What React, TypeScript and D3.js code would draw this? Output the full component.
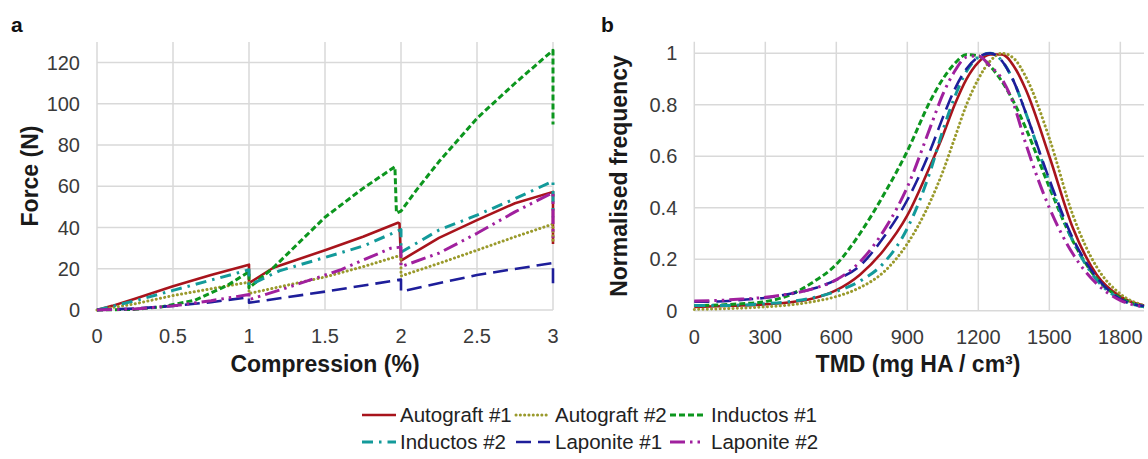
import { useEffect, useRef } from 'react';
import * as d3 from 'd3';

/* ----------------------------------
   DATA - panel a: [compression %, force N]
---------------------------------- */
const autograft1 = [[0, 0], [0.1, 2], [0.25, 5.5], [0.5, 11.5], [0.75, 17], [1, 22], [1, 13], [1.16, 20.5], [1.5, 29], [1.75, 35.5], [1.98, 42.3], [1.99, 42], [2, 24], [2.25, 35], [2.5, 43.6], [2.75, 51.8], [3, 57.3], [3, 32]];
const autograft2 = [[0, 0], [0.25, 3], [0.5, 7], [0.75, 10.3], [1, 13.5], [1, 8], [1.25, 12], [1.5, 16], [1.75, 21], [2, 26.6], [2, 16.5], [2.25, 22.6], [2.5, 29], [2.75, 35.5], [3, 41.7], [3, 32]];
const inductos1 = [[0, 0], [0.25, 0.3], [0.43, 1.6], [0.645, 4.8], [0.86, 12], [1, 18.6], [1, 10.7], [1.16, 20.5], [1.25, 27], [1.5, 45], [1.75, 59], [1.96, 69.5], [1.97, 47], [2, 48], [2.1, 58], [2.25, 72], [2.5, 93], [2.75, 110], [3, 126], [3, 90]];
const inductos2 = [[0, 0], [0.25, 4.5], [0.5, 9.5], [0.75, 14.5], [1, 19.5], [1, 12], [1.2, 19], [1.5, 25.5], [1.75, 31], [2, 39], [2, 28], [2.25, 38.8], [2.5, 46], [2.75, 54], [3, 62.5], [3, 45]];
const laponite1 = [[0, 0], [0.25, 0.7], [0.5, 2], [0.75, 3.8], [1, 6.2], [1, 3.5], [1.5, 8.9], [2, 14.8], [2, 9], [2.5, 17], [3, 22.8], [3, 13]];
const laponite2 = [[0, 0], [0.25, 0.5], [0.5, 2], [0.75, 4.5], [1, 7.5], [1, 5], [1.27, 11.3], [1.6, 19.4], [1.93, 29.9], [2, 30.5], [2, 21], [2.25, 27.6], [2.5, 37.2], [2.75, 47.6], [3, 57], [3, 35]];

/* ----------------------------------
   DATA - panel b: normalised frequency vs TMD
---------------------------------- */
const tmdValues = [0, 100, 200, 300, 400, 500, 600, 700, 800, 900, 1000, 1050, 1100, 1150, 1200, 1250, 1300, 1350, 1400, 1500, 1600, 1700, 1800, 1900];
const autograft1Freq = [0.015, 0.017, 0.02, 0.025, 0.032, 0.047, 0.08, 0.14, 0.235, 0.37, 0.57, 0.68, 0.8, 0.9, 0.965, 0.995, 0.995, 0.95, 0.86, 0.6, 0.32, 0.14, 0.055, 0.02];
const autograft2Freq = [0.005, 0.007, 0.01, 0.015, 0.022, 0.035, 0.055, 0.09, 0.15, 0.26, 0.43, 0.54, 0.67, 0.8, 0.9, 0.97, 1.0, 0.98, 0.91, 0.67, 0.37, 0.17, 0.065, 0.02];
const inductos1Freq = [0.02, 0.022, 0.027, 0.035, 0.06, 0.11, 0.18, 0.3, 0.45, 0.62, 0.82, 0.9, 0.96, 0.995, 0.99, 0.95, 0.89, 0.81, 0.71, 0.48, 0.27, 0.125, 0.05, 0.015];
const inductos2Freq = [0.02, 0.02, 0.022, 0.027, 0.035, 0.05, 0.075, 0.115, 0.185, 0.32, 0.55, 0.7, 0.83, 0.93, 0.985, 1.0, 0.97, 0.89, 0.77, 0.5, 0.27, 0.12, 0.045, 0.015];
const laponite1Freq = [0.035, 0.036, 0.042, 0.05, 0.065, 0.085, 0.12, 0.175, 0.285, 0.43, 0.63, 0.75, 0.86, 0.94, 0.985, 1.0, 0.97, 0.89, 0.77, 0.51, 0.28, 0.13, 0.045, 0.018];
const laponite2Freq = [0.038, 0.04, 0.045, 0.052, 0.065, 0.085, 0.12, 0.19, 0.31, 0.48, 0.72, 0.84, 0.93, 0.985, 0.99, 0.95, 0.9, 0.8, 0.65, 0.4, 0.22, 0.105, 0.04, 0.015];

const seriesNames = ['Autograft #1', 'Autograft #2', 'Inductos #1', 'Inductos #2', 'Laponite #1', 'Laponite #2'];
const compressionTicks = [0, 0.5, 1, 1.5, 2, 2.5, 3];
const forceTicks = [0, 20, 40, 60, 80, 100, 120];
const tmdTicks = [0, 300, 600, 900, 1200, 1500, 1800];
const freqTicks = [0, 0.2, 0.4, 0.6, 0.8, 1];

const forceData = [autograft1, autograft2, inductos1, inductos2, laponite1, laponite2];
const freqData = [autograft1Freq, autograft2Freq, inductos1Freq, inductos2Freq, laponite1Freq, laponite2Freq];

// line looks, same order as seriesNames
const lineStyles = [
    { color: '#A8141C', dash: null, cap: 'butt', width: 2.6 },
    { color: '#9A9A2C', dash: '0.1 4.2', cap: 'round', width: 3 },
    { color: '#0C961E', dash: '6 3', cap: 'butt', width: 3 },
    { color: '#139A9A', dash: '11 6 2.5 6', cap: 'butt', width: 3 },
    { color: '#1E1E9A', dash: '15 7', cap: 'butt', width: 2.6 },
    { color: '#A0209E', dash: '15 5 2.5 5 2.5 5', cap: 'butt', width: 3 },
];

const FONT = '"Liberation Sans", Arial, sans-serif';
const GRID = '#D9D9D9';

const App = () => {
    const svgRef = useRef(null);

    useEffect(() => {
        const svg = d3.select(svgRef.current);
        svg.selectAll('*').remove();

        const drawFrame = (x, y, xTicks, yTicks) => {
            const [x0, x1] = x.range();
            const [y0, y1] = y.range();
            const g = svg.append('g');

            g.selectAll('.hgrid').data(yTicks).enter().append('line')
                .attr('x1', x0).attr('x2', x1)
                .attr('y1', d => y(d)).attr('y2', d => y(d))
                .attr('stroke', GRID).attr('stroke-width', 1.5);

            g.selectAll('.vgrid').data(xTicks).enter().append('line')
                .attr('x1', d => x(d)).attr('x2', d => x(d))
                .attr('y1', y0).attr('y2', y1)
                .attr('stroke', GRID).attr('stroke-width', 1.5);

            g.selectAll('.xlab').data(xTicks).enter().append('text')
                .attr('x', d => x(d)).attr('y', y0 + 33)
                .attr('text-anchor', 'middle')
                .attr('fill', '#3a3a3a')
                .style('font-size', '20px').style('font-family', FONT)
                .text(d => String(d));

            g.selectAll('.ylab').data(yTicks).enter().append('text')
                .attr('x', x0 - 17).attr('y', d => y(d)).attr('dy', '0.35em')
                .attr('text-anchor', 'end')
                .attr('fill', '#3a3a3a')
                .style('font-size', '20px').style('font-family', FONT)
                .text(d => String(d));
        };

        const drawLines = (x, y, rows, curve) => {
            rows.forEach((pts, i) => {
                const st = lineStyles[i];
                const line = d3.line().x(d => x(d[0])).y(d => y(d[1])).curve(curve);
                svg.append('path')
                    .attr('d', line(pts))
                    .attr('fill', 'none')
                    .attr('stroke', st.color)
                    .attr('stroke-width', st.width)
                    .attr('stroke-linecap', st.cap)
                    .attr('stroke-linejoin', 'round')
                    .attr('stroke-dasharray', st.dash);
            });
        };

        const title = (txt, px, py, rotate = false) => {
            svg.append('text')
                .attr('transform', rotate ? `translate(${px},${py}) rotate(-90)` : `translate(${px},${py})`)
                .attr('text-anchor', 'middle')
                .attr('fill', '#1a1a1a')
                .style('font-size', '23px').style('font-weight', 'bold').style('font-family', FONT)
                .text(txt);
        };

        /* ---------- panel a ---------- */
        const xa = d3.scaleLinear().domain([0, 3]).range([97, 553]);
        const ya = d3.scaleLinear().domain([0, 130]).range([310, 42]);
        drawFrame(xa, ya, compressionTicks, forceTicks);
        drawLines(xa, ya, forceData, d3.curveLinear);
        title('Force (N)', 38, 176, true);
        title('Compression (%)', 325, 372);

        /* ---------- panel b ---------- */
        const xb = d3.scaleLinear().domain([0, 1900]).range([694.3, 1144]);
        const yb = d3.scaleLinear().domain([0, 1.045]).range([310.7, 41.7]);
        drawFrame(xb, yb, tmdTicks, freqTicks);
        drawLines(xb, yb, freqData.map(arr => arr.map((v, j) => [tmdValues[j], v])), d3.curveMonotoneX);
        title('Normalised frequency', 627, 176, true);
        title('TMD (mg HA / cm³)', 918, 372);

        // panel letters
        [['a', 11], ['b', 601]].forEach(([t, px]) => {
            svg.append('text').attr('x', px).attr('y', 32)
                .style('font-size', '21px').style('font-weight', 'bold').style('font-family', FONT)
                .attr('fill', '#111')
                .text(t);
        });

        /* ---------- legend ---------- */
        const colSample = [362, 516, 670];
        const colText = [400, 555, 711];
        const rowY = [415, 442];
        seriesNames.forEach((name, i) => {
            const c = i % 3;
            const r = Math.floor(i / 3);
            const st = lineStyles[i];
            svg.append('line')
                .attr('x1', colSample[c]).attr('x2', colSample[c] + 34)
                .attr('y1', rowY[r]).attr('y2', rowY[r])
                .attr('stroke', st.color)
                .attr('stroke-width', st.width)
                .attr('stroke-linecap', st.cap)
                .attr('stroke-dasharray', st.dash);
            svg.append('text')
                .attr('x', colText[c]).attr('y', rowY[r]).attr('dy', '0.35em')
                .attr('fill', '#222')
                .style('font-size', '20.5px').style('font-family', FONT)
                .text(name);
        });
    }, []);

    return (
        <div style={{ position: 'absolute', left: 0, top: 0 }}>
            <svg ref={svgRef} width={1148} height={459} style={{ display: 'block', background: '#fff' }} />
        </div>
    );
};

export default App;
